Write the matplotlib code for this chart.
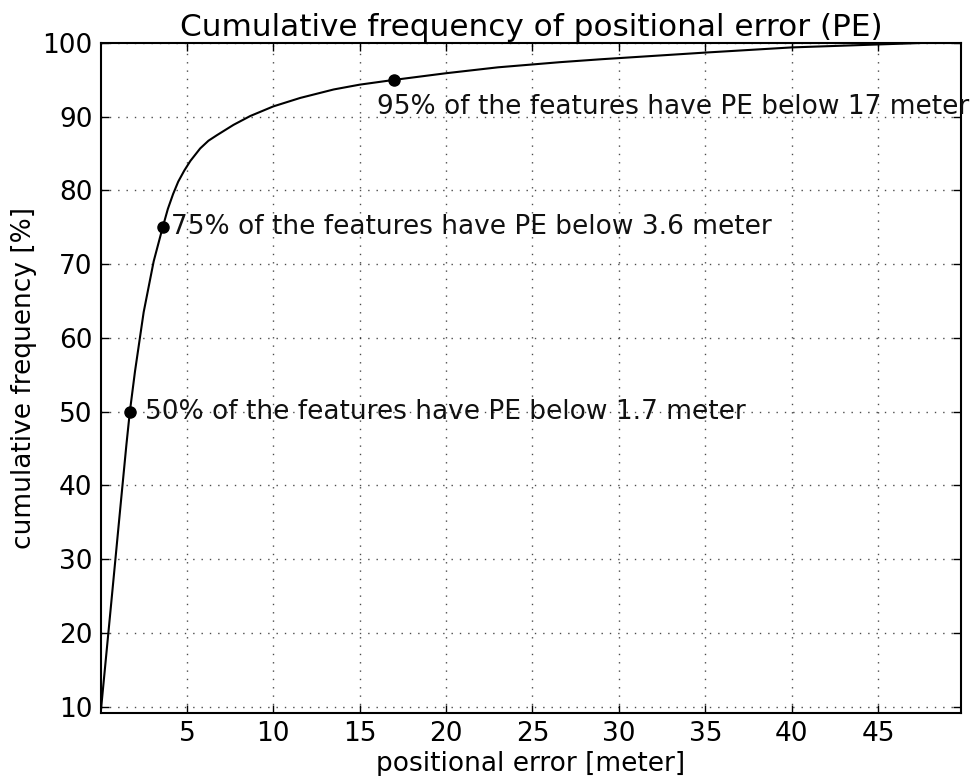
import numpy as np
import matplotlib
matplotlib.use('Agg')
import matplotlib.pyplot as plt

# cumulative frequency curve of positional error
pe_meter = [0.03, 0.6, 1.15, 1.5, 1.7, 2.0, 2.5, 3.08, 3.6, 3.9, 4.2, 4.5,
            4.85, 5.2, 5.77, 6.25, 6.74, 7.7, 8.67, 10.0, 11.56, 13.5, 15.0,
            17.0, 20.0, 23.0, 26.6, 29.0, 35.0, 40.0, 45.0, 47.5, 49.8]
cum_freq = [9.6, 23.5, 37.0, 45.5, 50.0, 55.5, 63.5, 70.4, 75.0, 77.5, 79.5,
            81.2, 82.7, 84.0, 85.7, 86.75, 87.5, 88.9, 90.1, 91.4, 92.55, 93.7,
            94.35, 95.0, 95.9, 96.7, 97.4, 97.8, 98.7, 99.4, 99.8, 100.0, 100.0]

# highlighted percentiles
pct_levels = [50, 75, 95]
pct_pe = [1.7, 3.6, 17]
pct_labels = ['1.7', '3.6', '17']

fig = plt.figure(figsize=(9.71, 7.76), dpi=100)
ax = fig.add_axes([0.104, 0.0812, 0.8857, 0.8634])

ax.plot(pe_meter, cum_freq, 'k-', linewidth=1.5)
ax.plot(pct_pe, pct_levels, 'ko', markersize=8)

# annotation text positions (data coords)
text_pos = [(2.59, 50), (4.1, 75), (16.0, 91.3)]
for lvl, lab, (tx, ty) in zip(pct_levels, pct_labels, text_pos):
    ax.text(tx, ty, f'{lvl}% of the features have PE below {lab} meter',
            fontsize=19, ha='left', va='center', color='#111111')

ax.set_xlim(0.03, 49.8)
ax.set_ylim(9.15, 100)
ax.set_xticks([5, 10, 15, 20, 25, 30, 35, 40, 45])
ax.set_yticks([10, 20, 30, 40, 50, 60, 70, 80, 90, 100])
ax.grid(True, color='k', linestyle=(0, (1, 5)), linewidth=1, alpha=0.7)
ax.tick_params(direction='in', top=True, right=True, length=6, width=1,
               labelsize=19, pad=6)
for s in ax.spines.values():
    s.set_linewidth(1.5)

ax.set_xlabel('positional error [meter]', fontsize=19, labelpad=3)
ax.set_ylabel('cumulative frequency [%]', fontsize=19, labelpad=4)
ax.set_title('Cumulative frequency of positional error (PE)', fontsize=22.4, pad=5)

fig.savefig('out.png', dpi=100)
